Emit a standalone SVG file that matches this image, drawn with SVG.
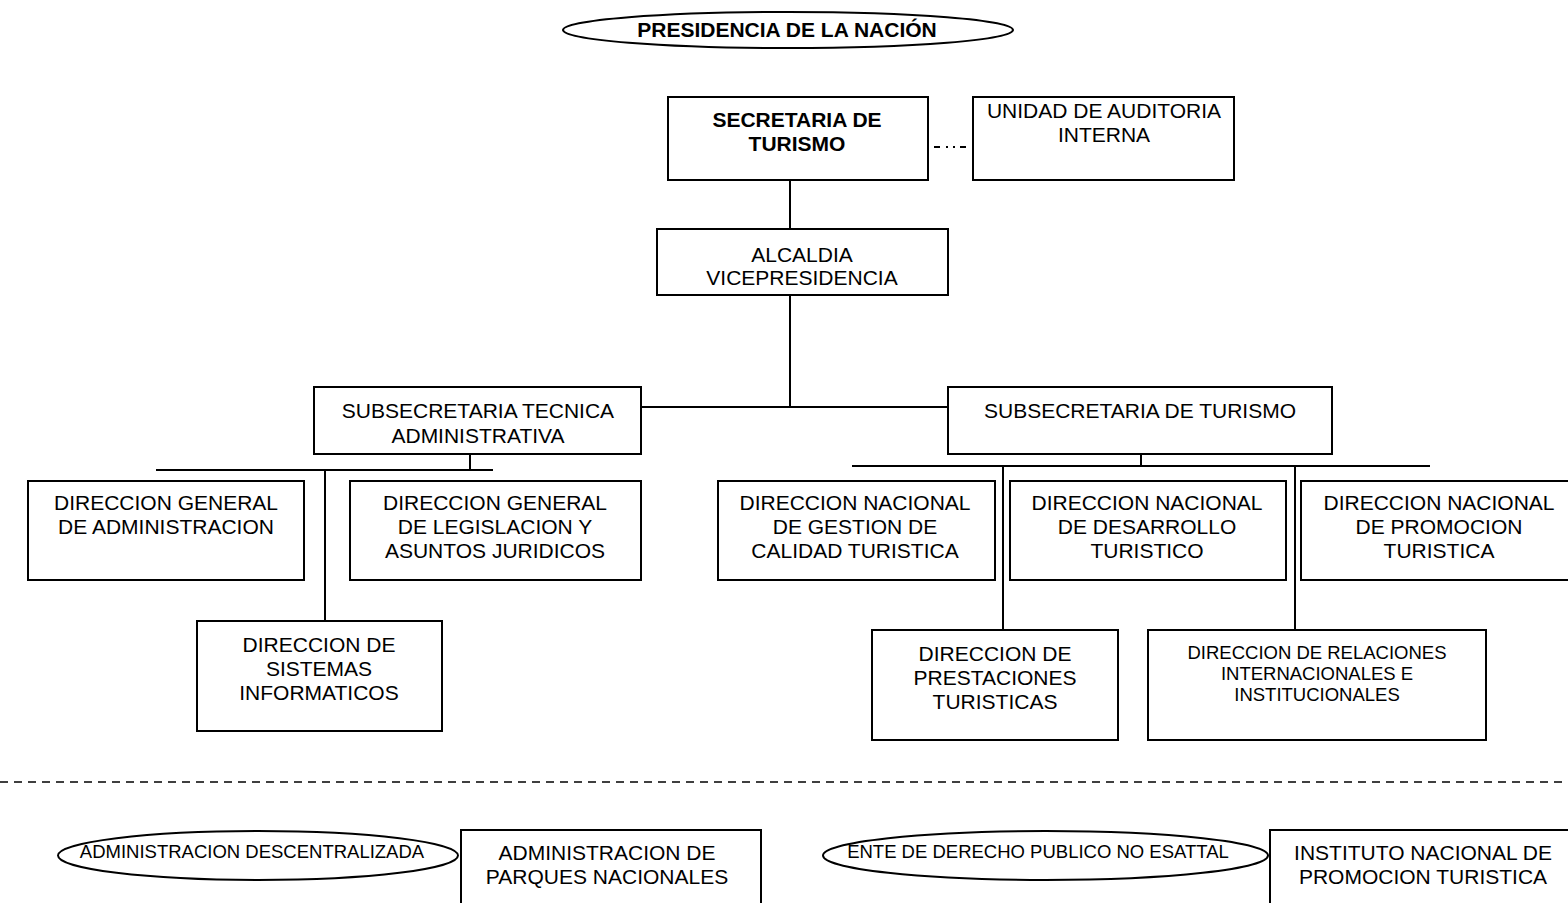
<svg xmlns="http://www.w3.org/2000/svg" width="1568" height="903" viewBox="0 0 1568 903">
<style>
.box{fill:#fff;stroke:#000;stroke-width:2}
.ln{stroke:#000;stroke-width:2;fill:none}
text{font-family:"Liberation Sans",Arial,sans-serif;font-size:21px;fill:#000;text-anchor:middle}
.b{font-weight:bold;font-size:21px}
.s{font-size:18.5px}
</style>
<rect width="1568" height="903" fill="#fff"/>
<g id="connectors">
<line class="ln" x1="790" y1="180" x2="790" y2="229"/>
<line class="ln" x1="790" y1="295" x2="790" y2="407"/>
<line class="ln" x1="641" y1="407" x2="948" y2="407"/>
<line class="ln" x1="470" y1="454" x2="470" y2="470"/>
<line class="ln" x1="156" y1="470" x2="493" y2="470"/>
<line class="ln" x1="325" y1="470" x2="325" y2="621"/>
<line class="ln" x1="1141" y1="454" x2="1141" y2="466"/>
<line class="ln" x1="852" y1="466" x2="1430" y2="466"/>
<line class="ln" x1="1003" y1="466" x2="1003" y2="630"/>
<line class="ln" x1="1295" y1="466" x2="1295" y2="630"/>
<path class="ln" d="M934 147h6M946 147h2M953 147h2M960 147h6"/>
<line x1="0" y1="782" x2="1568" y2="782" stroke="#000" stroke-width="1.5" stroke-dasharray="8 6"/>
</g>
<g id="presidencia">
<ellipse class="box" cx="788" cy="30" rx="225" ry="18"/>
<text class="b" x="787" y="37">PRESIDENCIA DE LA NACIÓN</text>
</g>
<g id="secretaria">
<rect class="box" x="668" y="97" width="260" height="83"/>
<text class="b" x="797" y="127">SECRETARIA DE</text>
<text class="b" x="797" y="151">TURISMO</text>
</g>
<g id="auditoria">
<rect class="box" x="973" y="97" width="261" height="83"/>
<text x="1104" y="118">UNIDAD DE AUDITORIA</text>
<text x="1104" y="142">INTERNA</text>
</g>
<g id="alcaldia">
<rect class="box" x="657" y="229" width="291" height="66"/>
<text x="802" y="262">ALCALDIA</text>
<text x="802" y="285">VICEPRESIDENCIA</text>
</g>
<g id="subsec-tecnica">
<rect class="box" x="314" y="387" width="327" height="67"/>
<text x="478" y="418">SUBSECRETARIA TECNICA</text>
<text x="478" y="443">ADMINISTRATIVA</text>
</g>
<g id="subsec-turismo">
<rect class="box" x="948" y="387" width="384" height="67"/>
<text x="1140" y="418">SUBSECRETARIA DE TURISMO</text>
</g>
<g id="dg-administracion">
<rect class="box" x="28" y="481" width="276" height="99"/>
<text x="166" y="510">DIRECCION GENERAL</text>
<text x="166" y="534">DE ADMINISTRACION</text>
</g>
<g id="dg-legislacion">
<rect class="box" x="350" y="481" width="291" height="99"/>
<text x="495" y="510">DIRECCION GENERAL</text>
<text x="495" y="534">DE LEGISLACION Y</text>
<text x="495" y="558">ASUNTOS JURIDICOS</text>
</g>
<g id="d-sistemas">
<rect class="box" x="197" y="621" width="245" height="110"/>
<text x="319" y="652">DIRECCION DE</text>
<text x="319" y="676">SISTEMAS</text>
<text x="319" y="700">INFORMATICOS</text>
</g>
<g id="dn-calidad">
<rect class="box" x="718" y="481" width="277" height="99"/>
<text x="855" y="510">DIRECCION NACIONAL</text>
<text x="855" y="534">DE GESTION DE</text>
<text x="855" y="558">CALIDAD TURISTICA</text>
</g>
<g id="dn-desarrollo">
<rect class="box" x="1010" y="481" width="276" height="99"/>
<text x="1147" y="510">DIRECCION NACIONAL</text>
<text x="1147" y="534">DE DESARROLLO</text>
<text x="1147" y="558">TURISTICO</text>
</g>
<g id="dn-promocion">
<rect class="box" x="1301" y="481" width="280" height="99"/>
<text x="1439" y="510">DIRECCION NACIONAL</text>
<text x="1439" y="534">DE PROMOCION</text>
<text x="1439" y="558">TURISTICA</text>
</g>
<g id="d-prestaciones">
<rect class="box" x="872" y="630" width="246" height="110"/>
<text x="995" y="661">DIRECCION DE</text>
<text x="995" y="685">PRESTACIONES</text>
<text x="995" y="709">TURISTICAS</text>
</g>
<g id="d-relaciones">
<rect class="box" x="1148" y="630" width="338" height="110"/>
<text class="s" x="1317" y="659">DIRECCION DE RELACIONES</text>
<text class="s" x="1317" y="680">INTERNACIONALES E</text>
<text class="s" x="1317" y="701">INSTITUCIONALES</text>
</g>
<g id="adm-descentralizada">
<ellipse class="box" cx="258" cy="855.5" rx="200" ry="24.5"/>
<text class="s" x="252" y="858">ADMINISTRACION DESCENTRALIZADA</text>
</g>
<g id="parques">
<rect class="box" x="461" y="830" width="300" height="80"/>
<text x="607" y="860">ADMINISTRACION DE</text>
<text x="607" y="884">PARQUES NACIONALES</text>
</g>
<g id="ente">
<ellipse class="box" cx="1045.5" cy="855.5" rx="222.5" ry="24.5"/>
<text class="s" x="1038" y="858">ENTE DE DERECHO PUBLICO NO ESATTAL</text>
</g>
<g id="instituto">
<rect class="box" x="1270" y="830" width="310" height="80"/>
<text x="1423" y="860">INSTITUTO NACIONAL DE</text>
<text x="1423" y="884">PROMOCION TURISTICA</text>
</g>
</svg>
